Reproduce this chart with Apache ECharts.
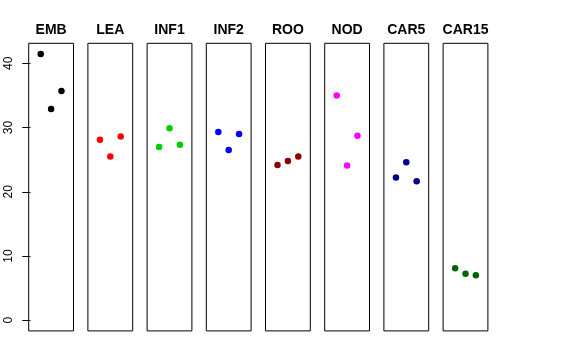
<!DOCTYPE html>
<html>
<head>
<meta charset="utf-8">
<script src="https://cdn.jsdelivr.net/npm/echarts@6/dist/echarts.min.js"></script>
<style>html,body{margin:0;padding:0;background:#fff}#c{width:576px;height:360px}</style>
</head>
<body>
<div id="c"></div>
<script>
var categories = ['EMB', 'LEA', 'INF1', 'INF2', 'ROO', 'NOD', 'CAR5', 'CAR15'];
var colors = ['#000000', '#FF0000', '#00CD00', '#0000FF', '#8B0000', '#FF00FF', '#00008B', '#006400'];
var EMB = [41.45, 32.9, 35.7];
var LEA = [28.1, 25.5, 28.6];
var INF1 = [26.95, 29.9, 27.3];
var INF2 = [29.3, 26.5, 29.0];
var ROO = [24.15, 24.8, 25.5];
var NOD = [35.0, 24.1, 28.7];
var CAR5 = [22.2, 24.6, 21.65];
var CAR15 = [8.1, 7.25, 7.0];
var seriesValues = [EMB, LEA, INF1, INF2, ROO, NOD, CAR5, CAR15];
var yTicks = [0, 10, 20, 30, 40];

var yMax = 41.45, pad = yMax * 0.04;
var panelLeft = 28.7, panelStep = 59.2, panelW = 44.8, panelTop = 43.3, panelH = 287.6;

var grids = [], xAxes = [], yAxes = [], series = [], titles = [];
categories.forEach(function (name, i) {
  var left = panelLeft + i * panelStep;
  grids.push({left: left, top: panelTop, width: panelW, height: panelH,
    show: true, borderColor: '#000', borderWidth: 1, backgroundColor: 'transparent'});
  xAxes.push({type: 'value', gridIndex: i, min: -0.16, max: 4.16, show: false});
  yAxes.push({type: 'value', gridIndex: i, min: -pad, max: yMax + pad,
    show: i === 0, splitLine: {show: false},
    axisLine: {show: false},
    axisTick: {show: true, length: 8, customValues: yTicks, lineStyle: {color: '#000', width: 1}},
    axisLabel: {show: true, customValues: yTicks, rotate: 90, margin: 14,
      fontFamily: 'Liberation Sans, Arial, sans-serif', fontSize: 12, color: '#000'}});
  series.push({type: 'scatter', xAxisIndex: i, yAxisIndex: i, symbol: 'circle', symbolSize: 6.5,
    itemStyle: {color: colors[i], opacity: 1},
    data: seriesValues[i].map(function (v, j) { return [j + 1, v]; }),
    silent: true, animation: false});
  titles.push({text: name, left: left + panelW / 2, top: 23, textAlign: 'center', padding: 0,
    textStyle: {fontFamily: 'Liberation Sans, Arial, sans-serif', fontSize: 14, fontWeight: 'bold', color: '#000'}});
});

var chart = echarts.init(document.getElementById('c'), null, {renderer: 'canvas'});
chart.setOption({animation: false, title: titles, grid: grids, xAxis: xAxes, yAxis: yAxes, series: series});
</script>
</body>
</html>
